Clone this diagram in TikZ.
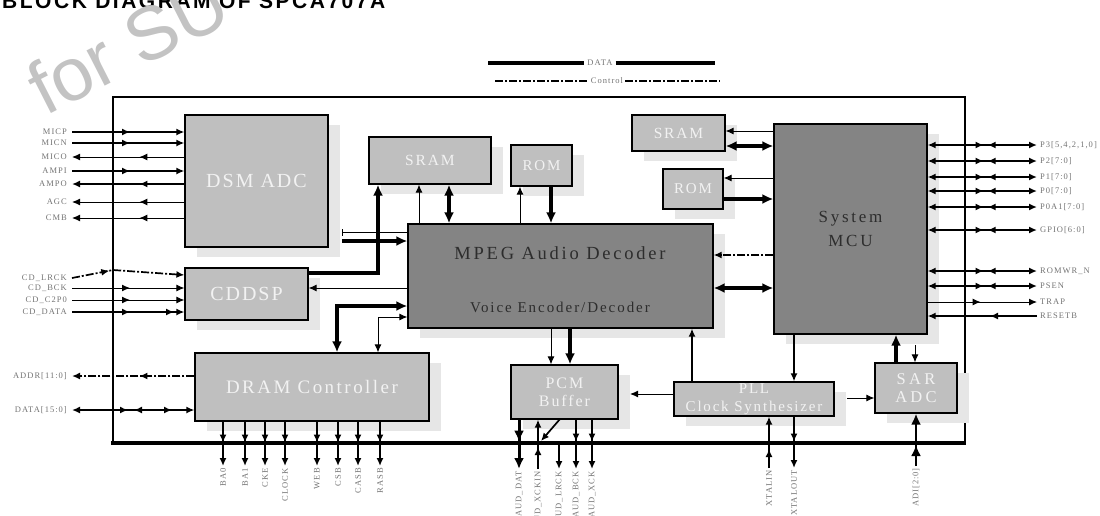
\documentclass[tikz,border=0pt]{standalone}
\usepackage{fontspec}
\setmainfont{Liberation Serif}
\newfontfamily\boxfont{Liberation Serif}
\newfontfamily\pinfontfam[LetterSpace=12]{Liberation Serif}
\newfontfamily\titlefont[LetterSpace=12]{Liberation Sans}
\newfontfamily\wmfont{Liberation Sans}
\usetikzlibrary{arrows.meta,decorations.markings,shadows}

\definecolor{boxlight}{RGB}{191,191,191}
\definecolor{boxdark}{RGB}{132,132,132}
\definecolor{shadowgray}{RGB}{230,230,230}
\definecolor{pingray}{RGB}{115,115,115}
\definecolor{boxtext}{RGB}{242,242,242}
\definecolor{darktext}{RGB}{45,45,45}
\definecolor{wmgray}{RGB}{195,195,195}

\newcommand\bfnt[3]{\boxfont\fontsize{#1}{#2}\selectfont\addfontfeature{LetterSpace=#3}}
\newcommand\pinfont{\pinfontfam\fontsize{8.5}{10}\selectfont}

\tikzset{
  tipS/.tip={Latex[length=8pt,width=7pt]},
  tipB/.tip={Latex[length=11pt,width=10pt]},
  blk/.style={draw, line width=1.2pt, fill=boxlight, inner sep=0pt, text=boxtext,
    drop shadow={shadow xshift=12pt, shadow yshift=-10pt, fill=shadowgray, opacity=1}},
  dblk/.style={blk, fill=boxdark, text=darktext},
  txt/.style={inner sep=0pt},
  pinL/.style={anchor=east, font=\pinfont, text=pingray, inner xsep=5pt, inner ysep=1pt},
  pinR/.style={anchor=west, font=\pinfont, text=pingray, inner xsep=3pt, inner ysep=1pt},
  pinB/.style={anchor=east, rotate=90, font=\pinfont, text=pingray, inner xsep=2pt, inner ysep=1pt},
  thinl/.style={line width=1pt},
  medl/.style={line width=1.7pt},
  thickl/.style={line width=3.5pt},
  datal/.style={line width=2.6pt},
  ctrl/.style={dash pattern=on 8pt off 2pt on 2pt off 2pt},
  mf/.style={postaction={decorate,decoration={markings,mark=at position #1 with {\arrow{tipS}}}}},
  mb/.style={postaction={decorate,decoration={markings,mark=at position #1 with {\arrowreversed{tipS}}}}},
  mfB/.style={postaction={decorate,decoration={markings,mark=at position #1 with {\arrow{tipB}}}}},
}

\begin{document}
\begin{tikzpicture}[x=1pt,y=-1pt]
\useasboundingbox (0,0) rectangle (1100,515);

% title (cut by the top edge) and watermark
\node[anchor=base west, inner sep=0pt, font=\titlefont\bfseries\fontsize{21}{21}\selectfont] (title) at (2,8) {BLOCK DIAGRAM OF SPCA707A};
\node[anchor=base west, inner sep=0pt, rotate=27, text=wmgray, font=\wmfont\fontsize{75}{75}\selectfont] (wm) at (45,117) {for SU};

% legend
\node[font=\pinfont, text=pingray, inner xsep=3pt] (legD) at (600,63) {DATA};
\node[font=\pinfont, text=pingray, inner xsep=2pt] (legC) at (607,81) {Control};
\coordinate (legD1) at (488,63); \coordinate (legD2) at (715,63);
\coordinate (legC1) at (495,81); \coordinate (legC2) at (720,81);
\draw[line width=4pt] (legD1) -- (legD.west);
\draw[line width=4pt] (legD.east) -- (legD2);
\draw[line width=1.6pt, ctrl] (legC1) -- (legC.west);
\draw[line width=1.6pt, ctrl] (legC.east) -- (legC2);

% chip outline
\draw[line width=2pt] (113,443) -- (113,97) -- (965,97) -- (965,443);
\draw[line width=3.5pt] (111,443) -- (966,443);

% blocks
\node[blk, minimum width=143, minimum height=132, font=\bfnt{20}{22}{10}] (dsm) at (256.5,181) {DSM ADC};
\node[blk, minimum width=123, minimum height=52, font=\bfnt{20}{22}{10}] (cddsp) at (246.5,294) {CDDSP};
\node[blk, minimum width=122, minimum height=47, font=\bfnt{15.5}{18}{12}] (sram1) at (430,160.5) {SRAM};
\node[blk, minimum width=61, minimum height=41, font=\bfnt{15}{18}{12}] (rom1) at (541.5,165.5) {ROM};
\node[dblk, minimum width=305, minimum height=104] (mpeg) at (560.5,276) {};
\node[txt, text=darktext, font=\bfnt{18.5}{20}{15}] (mpegT) at (560,253) {MPEG Audio Decoder};
\node[txt, text=darktext, font=\bfnt{15}{18}{13}] (mpegV) at (560,307) {Voice Encoder/Decoder};
\node[blk, minimum width=93, minimum height=36, font=\bfnt{15.5}{18}{12}] (sram2) at (678.5,133) {SRAM};
\node[blk, minimum width=60, minimum height=40, font=\bfnt{15}{18}{12}] (rom2) at (693,189) {ROM};
\node[dblk, minimum width=153, minimum height=210, align=center, font=\bfnt{17}{24}{16}] (mcu) at (850.5,229) {System\\MCU};
\node[blk, minimum width=234, minimum height=68, font=\bfnt{19}{22}{13}] (dram) at (312,387) {DRAM Controller};
\node[blk, minimum width=107, minimum height=54, align=center, font=\bfnt{16}{18}{12}] (pcm) at (564.5,392) {PCM\\Buffer};
\node[blk, minimum width=160, minimum height=34, align=center, font=\bfnt{15}{18}{12}] (pll) at (754,399) {PLL\\Clock Synthesizer};
\node[blk, minimum width=82, minimum height=50, align=center, font=\bfnt{16.5}{18}{20}] (sar) at (916,388) {SAR\\ADC};

% helper levels
\coordinate (yA) at (0,232); \coordinate (yB) at (0,241); \coordinate (yC) at (0,273);
\coordinate (yD) at (0,288); \coordinate (yE) at (0,306); \coordinate (yF) at (0,317);
\coordinate (xC) at (378,0); \coordinate (xE) at (337,0);
\coordinate (xS1) at (419,0); \coordinate (xS2) at (449,0); \coordinate (xR1) at (520,0); \coordinate (xR2) at (551,0);
\coordinate (yM1) at (0,131); \coordinate (yM2) at (0,146); \coordinate (yM3) at (0,178);
\coordinate (yM4) at (0,199); \coordinate (yM5) at (0,255); \coordinate (yM6) at (0,288);
\coordinate (xP1) at (692,0); \coordinate (xP2) at (794,0); \coordinate (xS3) at (896,0); \coordinate (xS4) at (915,0);
\coordinate (yP1) at (0,398); \coordinate (yP2) at (0,394); \coordinate (yS4) at (0,345);
\coordinate (xQ1) at (551,0); \coordinate (xQ2) at (570,0);
\coordinate (dsmA) at (342,232); \coordinate (dsmB) at (342,241);
\coordinate (pllR) at (847,398); \coordinate (pcmR) at (630,394);
\coordinate (yLR) at (0,275);

% internal connectors
\draw[thinl, {Bar[width=7pt]}-] (dsmA) -- (mpeg.west |- yA);
\draw[thickl, -{tipB}] (dsmB) -- (mpeg.west |- yB);
\draw[thickl, -{tipB}] (cddsp.east |- yC) -| (xC |- sram1.south);
\draw[thinl, -{tipS}] (mpeg.west |- yD) -- (cddsp.east |- yD);
\draw[thickl, {tipB}-{tipB}] (xE |- dram.north) |- (mpeg.west |- yE);
\draw[thinl, {tipS}-{tipS}] (xC |- dram.north) |- (mpeg.west |- yF);
\draw[thinl, -{tipS}] (xS1 |- mpeg.north) -- (xS1 |- sram1.south);
\draw[thickl, {tipB}-{tipB}] (xS2 |- mpeg.north) -- (xS2 |- sram1.south);
\draw[thinl, -{tipS}] (xR1 |- mpeg.north) -- (xR1 |- rom1.south);
\draw[thickl, -{tipB}] (xR2 |- rom1.south) -- (xR2 |- mpeg.north);
\draw[thinl, -{tipS}] (mcu.west |- yM1) -- (sram2.east |- yM1);
\draw[thickl, {tipB}-{tipB}] (sram2.east |- yM2) -- (mcu.west |- yM2);
\draw[thinl, -{tipS}] (mcu.west |- yM3) -- (rom2.east |- yM3);
\draw[thickl, -{tipB}] (rom2.east |- yM4) -- (mcu.west |- yM4);
\draw[medl, ctrl, -{tipS}] (mcu.west |- yM5) -- (mpeg.east |- yM5);
\draw[thickl, {tipB}-{tipB}] (mpeg.east |- yM6) -- (mcu.west |- yM6);
\draw[medl, -{tipS}] (xP1 |- pll.north) -- (xP1 |- mpeg.south);
\draw[medl, -{tipS}] (xP2 |- mcu.south) -- (xP2 |- pll.north);
\draw[thickl, -{tipB}] (xS3 |- sar.north) -- (xS3 |- mcu.south);
\draw[thinl, -{tipS}] (xS4 |- yS4) -- (xS4 |- sar.north);
\draw[thinl, -{tipS}] (pllR) -- (sar.west |- pllR);
\draw[thinl, -{tipS}] (pll.west |- pcmR) -- (pcmR);
\draw[thinl, -{tipS}] (xQ1 |- mpeg.south) -- (xQ1 |- pcm.north);
\draw[thickl, -{tipB}] (xQ2 |- mpeg.south) -- (xQ2 |- pcm.north);

% left pins
\node[pinL] (lMICP) at (72,132) {MICP};
\node[pinL] (lMICN) at (72,143) {MICN};
\node[pinL] (lMICO) at (72,157) {MICO};
\node[pinL] (lAMPI) at (72,171) {AMPI};
\node[pinL] (lAMPO) at (72,184) {AMPO};
\node[pinL] (lAGC) at (72,202) {AGC};
\node[pinL] (lCMB) at (72,218) {CMB};
\node[pinL] (lLRCK) at (72,278) {CD\_LRCK};
\node[pinL] (lBCK) at (72,288) {CD\_BCK};
\node[pinL] (lC2P0) at (72,300) {CD\_C2P0};
\node[pinL] (lCDD) at (72,312) {CD\_DATA};
\node[pinL] (lADDR) at (72,376) {ADDR[11:0]};
\node[pinL] (lDATA) at (72,410) {DATA[15:0]};
\coordinate (lrckB) at (113,270);

\draw[medl, -{tipS}, mf=58pt] (lMICP.east) -- (lMICP.east -| dsm.west);
\draw[medl, -{tipS}, mf=58pt] (lMICN.east) -- (lMICN.east -| dsm.west);
\draw[thinl, -{tipS}, mf=45pt] (lMICO.east -| dsm.west) -- (lMICO.east);
\draw[medl, -{tipS}, mf=58pt] (lAMPI.east) -- (lAMPI.east -| dsm.west);
\draw[medl, -{tipS}, mf=45pt] (lAMPO.east -| dsm.west) -- (lAMPO.east);
\draw[thinl, -{tipS}, mf=45pt] (lAGC.east -| dsm.west) -- (lAGC.east);
\draw[thinl, -{tipS}, mf=45pt] (lCMB.east -| dsm.west) -- (lCMB.east);
\draw[medl, ctrl, -{tipS}, mf=38pt] (lLRCK.east) -- (lrckB) -- (cddsp.west |- yLR);
\draw[thinl, -{tipS}, mf=58pt] (lBCK.east) -- (lBCK.east -| cddsp.west);
\draw[thinl, -{tipS}, mf=58pt] (lC2P0.east) -- (lC2P0.east -| cddsp.west);
\draw[datal, -{tipS}, mf=58pt, mf=102pt] (lCDD.east) -- (lCDD.east -| cddsp.west);
\draw[medl, ctrl, -{tipS}, mf=55pt] (lADDR.east -| dram.west) -- (lADDR.east);
\draw[datal, {tipS}-{tipS}, mf=56pt, mb=62pt, mf=100pt] (lDATA.east) -- (lDATA.east -| dram.west);

% right pins
\node[pinR] (rP3) at (1037,145) {P3[5,4,2,1,0]};
\node[pinR] (rP2) at (1037,161) {P2[7:0]};
\node[pinR] (rP1) at (1037,177) {P1[7:0]};
\node[pinR] (rP0) at (1037,191) {P0[7:0]};
\node[pinR] (rP0A) at (1037,207) {P0A1[7:0]};
\node[pinR] (rGPIO) at (1037,230) {GPIO[6:0]};
\node[pinR] (rROMWR) at (1037,271) {ROMWR\_N};
\node[pinR] (rPSEN) at (1037,286) {PSEN};
\node[pinR] (rTRAP) at (1037,302) {TRAP};
\node[pinR] (rRESET) at (1037,316) {RESETB};

\foreach \p in {rP3,rP2,rP1,rP0,rP0A,rGPIO,rROMWR,rPSEN}
  \draw[medl, {tipS}-{tipS}, mf=56pt, mb=60pt] (\p.west -| mcu.east) -- (\p.west);
\draw[thinl, -{tipS}, mf=53pt] (rTRAP.west -| mcu.east) -- (rTRAP.west);
\draw[medl, -{tipS}, mf=47pt] (rRESET.west) -- (rRESET.west -| mcu.east);

% bottom pins of DRAM controller
\node[pinB] (bBA0) at (223,466) {BA0};
\node[pinB] (bBA1) at (245,466) {BA1};
\node[pinB] (bCKE) at (265,466) {CKE};
\node[pinB] (bCLK) at (285,466) {CLOCK};
\node[pinB] (bWEB) at (317,466) {WEB};
\node[pinB] (bCSB) at (338,466) {CSB};
\node[pinB] (bCASB) at (358,466) {CASB};
\node[pinB] (bRASB) at (380,466) {RASB};
\foreach \p in {bBA0,bBA1,bCKE,bCLK,bWEB,bCSB,bCASB,bRASB}
  \draw[medl, -{tipS}, mf=21pt] (\p.east |- dram.south) -- (\p.east);

% bottom pins of PCM buffer
\node[pinB] (bADAT) at (519,469) {AUD\_DAT};
\node[pinB] (bAXCK) at (538,469) {AUD\_XCKIN};
\node[pinB] (bALR) at (559,469) {AUD\_LRCK};
\node[pinB] (bABCK) at (576,469) {AUD\_BCK};
\node[pinB] (bAXC) at (592,469) {AUD\_XCK};
\coordinate (lrBus) at (559,444);
\coordinate (diagS) at (560,419);
\coordinate (diagE) at (541,441);
\draw[line width=3pt, -{tipB}, mfB=22pt] (bADAT.east |- pcm.south) -- (bADAT.east);
\draw[medl, -{tipS}, mf=22pt] (bAXCK.east) -- (bAXCK.east |- pcm.south);
\draw[medl, -{tipS}] (diagS) -- (diagE);
\draw[medl, -{tipS}] (lrBus) -- (bALR.east);
\draw[medl, -{tipS}, mf=22pt] (bABCK.east |- pcm.south) -- (bABCK.east);
\draw[medl, -{tipS}, mf=22pt] (bAXC.east |- pcm.south) -- (bAXC.east);

% PLL and SAR ADC pins
\node[pinB] (bXIN) at (769,468) {XTALIN};
\node[pinB] (bXOUT) at (794,468) {XTALOUT};
\node[pinB] (bADI) at (916,466) {ADI[2:0]};
\draw[medl, -{tipS}, mf=19pt] (bXIN.east) -- (bXIN.east |- pll.south);
\draw[medl, -{tipS}, mf=25pt] (bXOUT.east |- pll.south) -- (bXOUT.east);
\draw[line width=2.8pt, -{tipB}, mfB=21pt] (bADI.east) -- (bADI.east |- sar.south);
\end{tikzpicture}
\end{document}
